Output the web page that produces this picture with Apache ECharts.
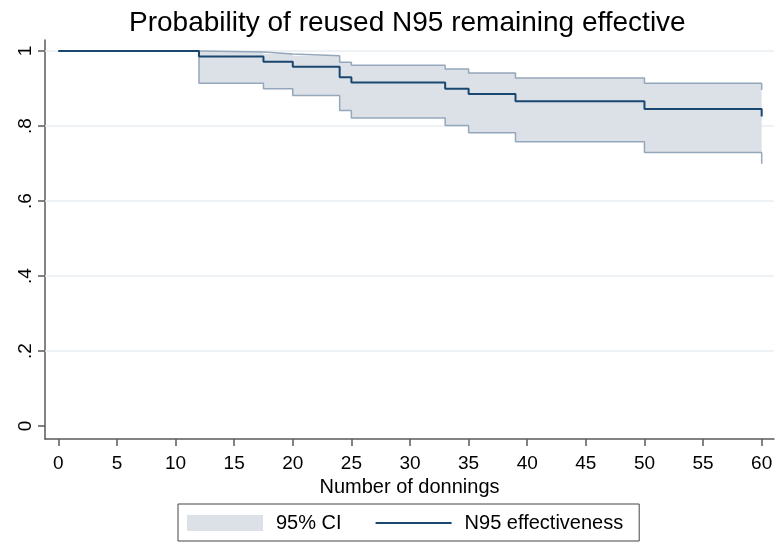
<!DOCTYPE html>
<html>
<head>
<meta charset="utf-8">
<script src="https://cdn.jsdelivr.net/npm/echarts@6/dist/echarts.min.js"></script>
<style>
	html, body { margin: 0; padding: 0; background: #fff; }
	#chart { width: 779px; height: 544px; }
</style>
</head>
<body>
<div id="chart"></div>
<script>
// -------------------------
// Kaplan-Meier style step chart: reused N95 effectiveness
// -------------------------

// Step times (number of donnings) where the estimate changes
const donnings = [0, 12, 17.5, 20, 24, 25, 33, 35, 39, 50, 60];
// Survival estimate
const effectiveness = [1, 0.985, 0.971, 0.958, 0.930, 0.916, 0.899, 0.885, 0.866, 0.845, 0.825];
// 95% CI bounds
const ciUpper = [1, 0.997, 0.992, 0.987, 0.970, 0.962, 0.952, 0.941, 0.928, 0.914, 0.896];
const ciLower = [1, 0.914, 0.899, 0.881, 0.841, 0.821, 0.801, 0.782, 0.758, 0.729, 0.699];

// Tick values
const xTicks = [0, 5, 10, 15, 20, 25, 30, 35, 40, 45, 50, 55, 60];
const yTicks = [0, 0.2, 0.4, 0.6, 0.8, 1];
const yGrid = [0.2, 0.4, 0.6, 0.8, 1];

// Colors
const lineColor = '#1a476f';
const ciFill = '#dce1e8';
const ciEdge = '#95a7bb';
const gridColor = '#e8eef2';
const axisColor = '#5a5a5a';

const font = '"Liberation Sans", Arial, sans-serif';

function fmtY(v) {
	if (v === 0) return '0';
	if (v === 1) return '1';
	return String(v).replace(/^0\./, '.');
}

// Build the step outline of the CI band (upper forward, lower backward)
function bandPoints(api) {
	const pts = [];
	for (let i = 0; i < donnings.length; i++) {
		if (i > 0) pts.push(api.coord([donnings[i], ciUpper[i - 1]]));
		pts.push(api.coord([donnings[i], ciUpper[i]]));
	}
	for (let i = donnings.length - 1; i >= 0; i--) {
		pts.push(api.coord([donnings[i], ciLower[i]]));
		if (i > 0) pts.push(api.coord([donnings[i], ciLower[i - 1]]));
	}
	return pts;
}

const chart = echarts.init(document.getElementById('chart'));

const option = {
	animation: false,
	backgroundColor: '#fff',
	textStyle: { fontFamily: font, color: '#000' },
	title: {
		text: 'Probability of reused N95 remaining effective',
		left: 124,
		top: 4,
		textStyle: { fontFamily: font, fontSize: 28, fontWeight: 'normal', color: '#000' }
	},
	legend: {
		left: 178,
		top: 504,
		orient: 'horizontal',
		itemWidth: 76,
		itemHeight: 16,
		itemGap: 33,
		padding: [9, 16, 8, 9],
		borderColor: '#444',
		borderWidth: 1,
		textStyle: { fontFamily: font, fontSize: 20, color: '#000', padding: [0, 0, 0, 8] },
		data: [
			{ name: '95% CI', icon: 'rect', itemStyle: { color: ciFill, borderWidth: 0 } },
			{ name: 'N95 effectiveness', itemStyle: { opacity: 0 } }
		]
	},
	grid: { left: 45, right: 5, top: 40, bottom: 105 },
	xAxis: {
		type: 'value',
		min: -1.135,
		max: 61.05,
		name: 'Number of donnings',
		nameLocation: 'middle',
		nameGap: 38,
		nameTextStyle: { fontFamily: font, fontSize: 20, color: '#000' },
		axisLine: { show: true, onZero: false, lineStyle: { color: axisColor, width: 1.5 } },
		axisTick: { show: true, customValues: xTicks, length: 7, lineStyle: { color: axisColor, width: 1.5 } },
		axisLabel: { customValues: xTicks, fontFamily: font, fontSize: 19, color: '#000', margin: 15 },
		splitLine: { show: false }
	},
	yAxis: {
		type: 'value',
		min: -0.0347,
		max: 1.0293,
		axisLine: { show: true, onZero: false, lineStyle: { color: axisColor, width: 1.5 } },
		axisTick: { show: true, customValues: yTicks, length: 7, lineStyle: { color: axisColor, width: 1.5 } },
		axisLabel: { customValues: yTicks, fontFamily: font, fontSize: 19, color: '#000', margin: 10, rotate: 90, formatter: fmtY },
		splitLine: { show: false }
	},
	series: [
		{
			name: '95% CI',
			type: 'custom',
			silent: true,
			color: ciFill,
			z: 2,
			data: [[donnings[0], ciUpper[0]]],
			renderItem: (params, api) => ({
				type: 'polygon',
				shape: { points: bandPoints(api) },
				style: { fill: ciFill, stroke: null }
			})
		},
		{
			name: 'ciUpperEdge',
			type: 'line',
			step: 'end',
			showSymbol: false,
			symbol: 'none',
			silent: true,
			z: 3,
			lineStyle: { color: ciEdge, width: 1.5 },
			data: donnings.map((t, i) => [t, ciUpper[i]]),
			markLine: {
				silent: true,
				z: 1,
				symbol: 'none',
				label: { show: false },
				lineStyle: { color: gridColor, width: 1.5, type: 'solid' },
				data: yGrid.map(v => ({ yAxis: v }))
			}
		},
		{
			name: 'ciLowerEdge',
			type: 'line',
			step: 'end',
			showSymbol: false,
			symbol: 'none',
			silent: true,
			z: 3,
			lineStyle: { color: ciEdge, width: 1.5 },
			data: donnings.map((t, i) => [t, ciLower[i]])
		},
		{
			name: 'N95 effectiveness',
			type: 'line',
			step: 'end',
			showSymbol: false,
			symbol: 'none',
			z: 4,
			color: lineColor,
			lineStyle: { color: lineColor, width: 2 },
			data: donnings.map((t, i) => [t, effectiveness[i]])
		}
	]
};

chart.setOption(option);
</script>
</body>
</html>
